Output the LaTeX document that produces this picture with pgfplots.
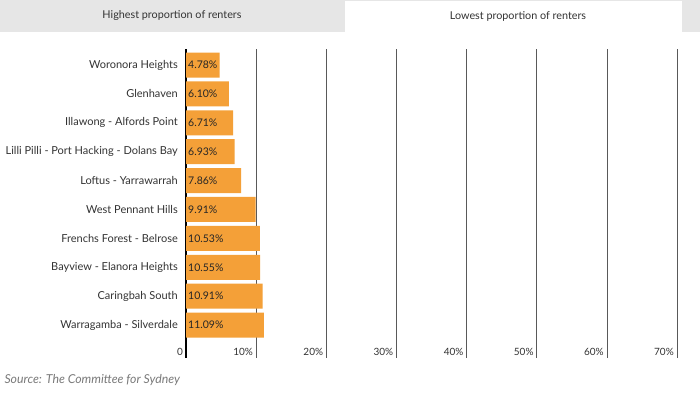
\documentclass[border=0pt]{standalone}
\usepackage{pgfplots}
\pgfplotsset{compat=1.18}
\usepackage{fontspec}
\setmainfont{Lato}
\definecolor{barc}{HTML}{F4A038}
\definecolor{txt}{HTML}{333333}
\definecolor{tabgray}{HTML}{E6E6E6}
\definecolor{src}{HTML}{7A7A7A}
\begin{document}
\begin{tikzpicture}
\path[use as bounding box] (0bp,0bp) rectangle (700bp,393bp);
\fill[white] (0bp,0bp) rectangle (700bp,393bp);
\fill[tabgray] (0bp,361bp) rectangle (700bp,393bp);
\fill[white] (345bp,361bp) rectangle (682bp,392bp);
\node[text=txt, font=\fontsize{10.8bp}{12bp}\selectfont] at (172bp,377bp) {Highest proportion of renters};
\node[text=txt, font=\fontsize{10.8bp}{12bp}\selectfont] at (518bp,377bp) {Lowest proportion of renters};
\node[anchor=west, text=src, font=\fontsize{12.3bp}{14bp}\selectfont\itshape] at (1bp,13bp) {Source: The Committee for Sydney};
\begin{axis}[
  at={(186bp,35bp)}, anchor=south west, scale only axis,
  width=491bp, height=309bp,
  xmin=0, xmax=70, ymin=-0.554, ymax=10.14, y dir=reverse,
  axis line style={draw=none},
  major tick length=0pt,
  /pgf/number format/assume math mode=true,
  xtick={10,20,...,70},
  xticklabels={10\%,20\%,30\%,40\%,50\%,60\%,70\%},
  extra x ticks={0}, extra x tick labels={0},
  extra x tick style={grid style={black, line width=1.6bp}},
  xmajorgrids,
  grid style={black!65, line width=0.6bp},
  ytick={0,...,9},
  yticklabels={Woronora Heights, Glenhaven, Illawong - Alfords Point, Lilli Pilli - Port Hacking - Dolans Bay, Loftus - Yarrawarrah, West Pennant Hills, Frenchs Forest - Belrose, Bayview - Elanora Heights, Caringbah South, Warragamba - Silverdale},
  xticklabel style={font=\fontsize{10bp}{12bp}\selectfont, text=txt, anchor=base east, inner sep=0pt, yshift=3bp, xshift=-3bp},
  yticklabel style={font=\fontsize{11bp}{13bp}\selectfont, text=txt, anchor=east, inner sep=0pt, xshift=-8bp},
  clip=false,
]
\addplot[xbar, bar width=25bp, fill=barc, draw=none] coordinates {
(4.78,0) (6.10,1) (6.71,2) (6.93,3) (7.86,4) (9.91,5) (10.53,6) (10.55,7) (10.91,8) (11.09,9)};
\addplot[only marks, mark=*, mark size=0pt, draw=none, fill=none,
  point meta=explicit,
  nodes near coords={\pgfmathprintnumber[fixed,fixed zerofill,precision=2]{\pgfplotspointmeta}\%},
  every node near coord/.append style={anchor=west, inner sep=0pt, xshift=2bp, text=black!85, font=\fontsize{10.5bp}{12bp}\selectfont}]
  table[x=z, y=y, meta=v] {
y z v
0 0 4.78
1 0 6.10
2 0 6.71
3 0 6.93
4 0 7.86
5 0 9.91
6 0 10.53
7 0 10.55
8 0 10.91
9 0 11.09
};
\end{axis}
\end{tikzpicture}
\end{document}
